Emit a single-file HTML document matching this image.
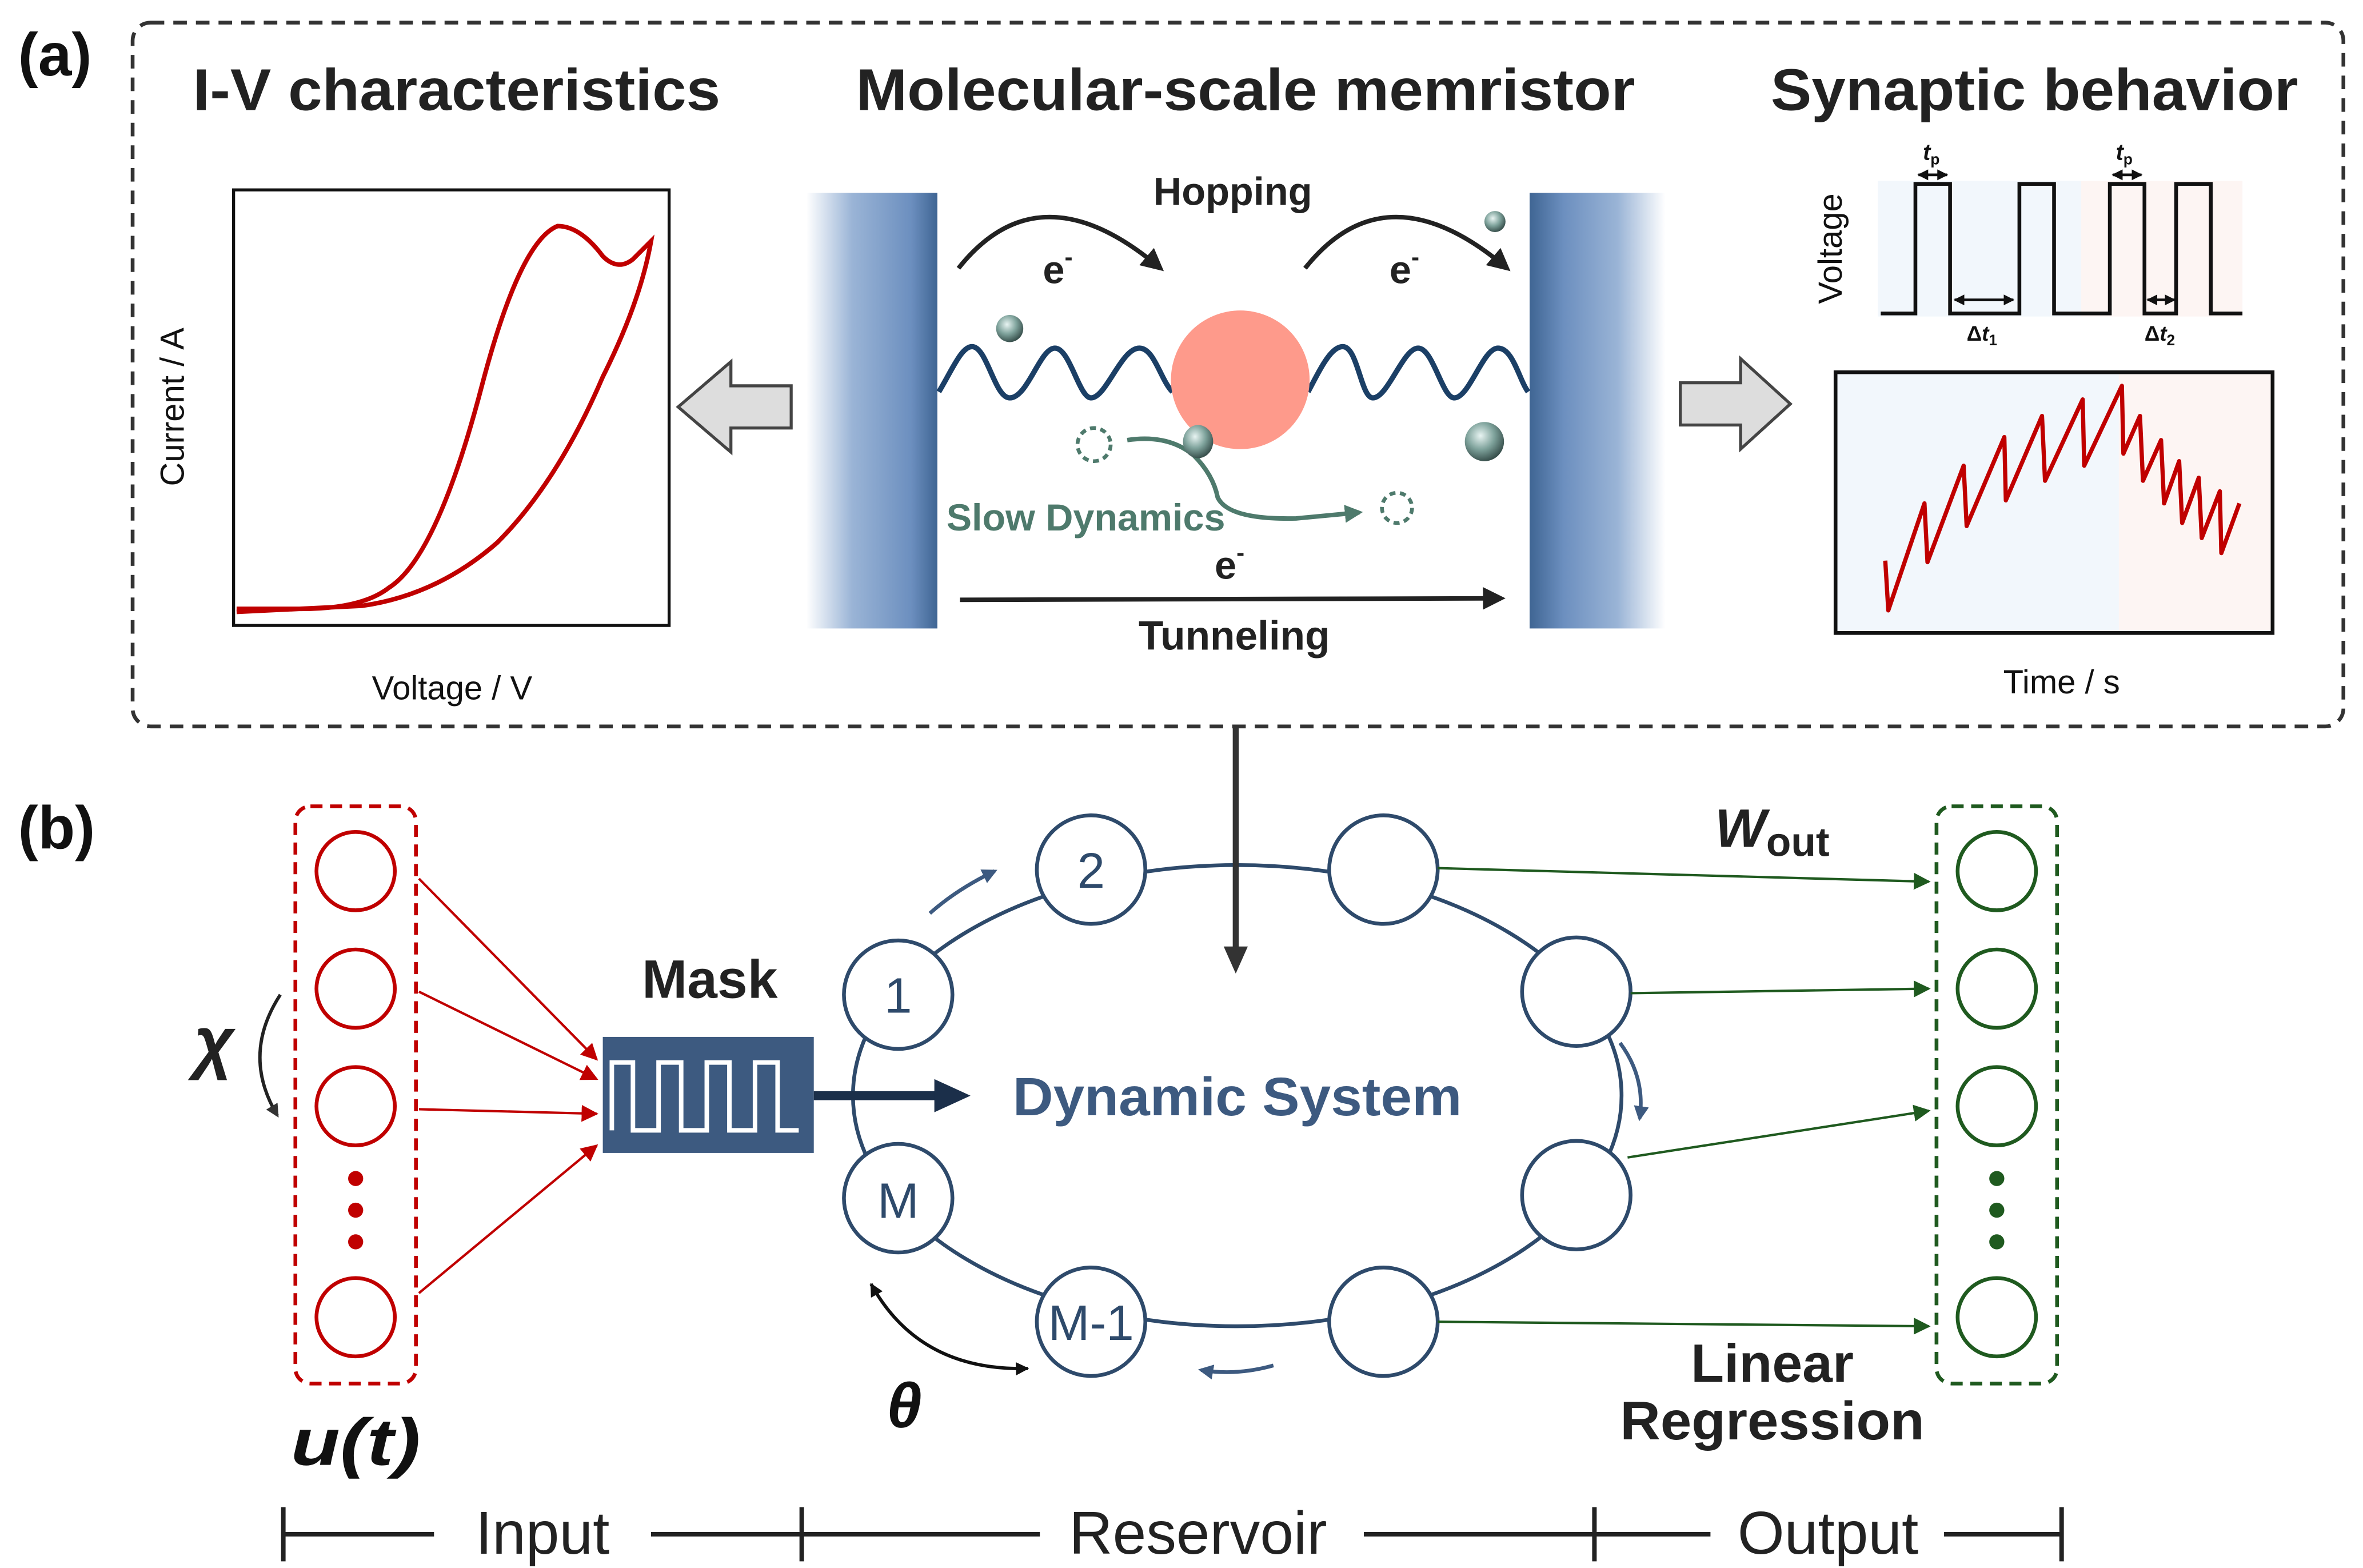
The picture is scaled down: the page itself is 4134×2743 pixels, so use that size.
<!DOCTYPE html>
<html><head><meta charset="utf-8"><style>
html,body{margin:0;padding:0;background:#fff}
svg{display:block}
text{font-family:"Liberation Sans",Arial,sans-serif}
</style></head><body>
<svg width="4134" height="2743" viewBox="0 0 1568 1040.4" preserveAspectRatio="none" xmlns="http://www.w3.org/2000/svg">
<defs>
<linearGradient id="elL" x1="0" x2="1" y1="0" y2="0">
<stop offset="0" stop-color="#ffffff"/><stop offset="0.35" stop-color="#9ab4d6"/><stop offset="0.8" stop-color="#6c8fbf"/><stop offset="1" stop-color="#3f6593"/></linearGradient>
<linearGradient id="elR" x1="0" x2="1" y1="0" y2="0">
<stop offset="0" stop-color="#3f6593"/><stop offset="0.25" stop-color="#6c8fbf"/><stop offset="0.65" stop-color="#9ab4d6"/><stop offset="1" stop-color="#ffffff"/></linearGradient>
<radialGradient id="ball" cx="0.4" cy="0.35" r="0.7">
<stop offset="0" stop-color="#e8f4f2"/><stop offset="0.5" stop-color="#7fa39c"/><stop offset="1" stop-color="#2f4542"/></radialGradient>
<marker id="ak" viewBox="0 0 10 10" refX="8" refY="5" markerWidth="5" markerHeight="5" orient="auto"><path d="M0,0 L10,5 L0,10 z" fill="#222"/></marker>
<marker id="akb" viewBox="0 0 10 10" refX="8" refY="5" markerWidth="4" markerHeight="4" orient="auto"><path d="M0,0 L10,5 L0,10 z" fill="#333"/></marker>
<marker id="ar" viewBox="0 0 10 10" refX="9" refY="5" markerWidth="7" markerHeight="7" orient="auto"><path d="M0,0 L10,5 L0,10 z" fill="#c00000"/></marker>
<marker id="ag" viewBox="0 0 10 10" refX="9" refY="5" markerWidth="7" markerHeight="7" orient="auto"><path d="M0,0 L10,5 L0,10 z" fill="#1f5a1f"/></marker>
<marker id="an" viewBox="0 0 10 10" refX="8" refY="5" markerWidth="4" markerHeight="4" orient="auto"><path d="M0,0 L10,5 L0,10 z" fill="#3d5a80"/></marker>
<marker id="as" viewBox="0 0 10 10" refX="8" refY="5" markerWidth="4" markerHeight="4" orient="auto"><path d="M0,0 L10,5 L0,10 z" fill="#4e7a6c"/></marker>
<marker id="dbl" viewBox="0 0 10 10" refX="9" refY="5" markerWidth="4" markerHeight="4" orient="auto-start-reverse"><path d="M0,0 L10,5 L0,10 z" fill="#111"/></marker>
</defs>

<!-- (a) -->
<text x="12" y="50" font-size="40" font-weight="bold" fill="#111">(a)</text>
<rect x="88" y="15" width="1467" height="467" rx="12" fill="none" stroke="#333" stroke-width="2.5" stroke-dasharray="9,6"/>
<text x="128" y="73" font-size="39" font-weight="bold" textLength="350" lengthAdjust="spacingAndGlyphs" fill="#222">I-V characteristics</text>
<text x="568" y="73" font-size="39" font-weight="bold" textLength="517" lengthAdjust="spacingAndGlyphs" fill="#222">Molecular-scale memristor</text>
<text x="1175" y="73" font-size="39" font-weight="bold" textLength="350" lengthAdjust="spacingAndGlyphs" fill="#222">Synaptic behavior</text>

<!-- IV plot -->
<rect x="155" y="126" width="289" height="289" fill="#fff" stroke="#111" stroke-width="2"/>
<path d="M157,404 L200,404 Q240,404 258,390 Q290,370 320,255 Q345,160 370,150 Q385,150 400,170 Q410,180 420,172 L432,160 Q425,200 400,250 Q370,320 330,360 Q290,395 240,402 L157,406" fill="none" stroke="#c00000" stroke-width="3"/>
<text x="122" y="270" font-size="22" text-anchor="middle" transform="rotate(-90 122 270)" fill="#111">Current / A</text>
<text x="300" y="464" font-size="22" text-anchor="middle" fill="#111">Voltage / V</text>

<!-- block arrows -->
<path d="M525,256 L485,256 L485,240 L450,270 L485,300 L485,284 L525,284 Z" fill="#ddd" stroke="#444" stroke-width="2"/>
<path d="M1115,254 L1155,254 L1155,238 L1188,268 L1155,298 L1155,282 L1115,282 Z" fill="#ddd" stroke="#444" stroke-width="2"/>

<!-- electrodes -->
<rect x="535" y="128" width="87" height="289" fill="url(#elL)"/>
<rect x="1015" y="128" width="90" height="289" fill="url(#elR)"/>
<path d="M623,260 C632,245 638,230 645,230 C655,230 660,264 670,264 C682,264 690,231 700,231 C710,231 716,264 724,264 C734,264 744,231 756,231 C766,231 770,252 778,260" fill="none" stroke="#1b3f66" stroke-width="3.5"/>
<path d="M868,260 C876,245 883,230 891,230 C901,230 903,264 911,264 C921,264 931,231 941,231 C951,231 957,264 965,264 C975,264 984,231 994,231 C1004,231 1008,252 1014,260" fill="none" stroke="#1b3f66" stroke-width="3.5"/>
<ellipse cx="823" cy="252" rx="46" ry="46" fill="#fe9a8b"/>
<text x="818" y="136" font-size="26" font-weight="bold" text-anchor="middle" fill="#222">Hopping</text>
<path d="M636,178 Q690,110 770,178" fill="none" stroke="#222" stroke-width="3" marker-end="url(#ak)"/>
<path d="M866,178 Q920,110 1000,178" fill="none" stroke="#222" stroke-width="3" marker-end="url(#ak)"/>
<text x="692" y="188" font-size="26" font-weight="bold" fill="#222">e<tspan font-size="16" dy="-12">-</tspan></text>
<text x="922" y="188" font-size="26" font-weight="bold" fill="#222">e<tspan font-size="16" dy="-12">-</tspan></text>
<ellipse cx="670" cy="218" rx="9" ry="9" fill="url(#ball)"/>
<ellipse cx="992" cy="147" rx="7" ry="7" fill="url(#ball)"/>
<ellipse cx="985" cy="293" rx="13" ry="13" fill="url(#ball)"/>
<circle cx="726" cy="295" r="11" fill="none" stroke="#4e7a6c" stroke-width="2.5" stroke-dasharray="4,3"/>
<circle cx="927" cy="337" r="10" fill="none" stroke="#4e7a6c" stroke-width="2.5" stroke-dasharray="4,3"/>
<path d="M748,292 Q775,288 792,302 Q805,315 808,330 Q815,345 860,344 L902,340" fill="none" stroke="#4e7a6c" stroke-width="3" marker-end="url(#as)"/>
<ellipse cx="795" cy="293" rx="10" ry="11" fill="url(#ball)"/>
<text x="628" y="352" font-size="25" font-weight="bold" textLength="185" lengthAdjust="spacingAndGlyphs" fill="#4e7a6c">Slow Dynamics</text>
<text x="806" y="384" font-size="26" font-weight="bold" fill="#222">e<tspan font-size="16" dy="-12">-</tspan></text>
<line x1="637" y1="398" x2="996" y2="397" stroke="#222" stroke-width="3" marker-end="url(#ak)"/>
<text x="819" y="431" font-size="27" font-weight="bold" text-anchor="middle" fill="#222">Tunneling</text>

<!-- synaptic pulses -->
<rect x="1246" y="120" width="135" height="90" fill="#f2f7fc"/>
<rect x="1381" y="120" width="107" height="90" fill="#fdf5f3"/>
<path d="M1248,208 L1271,208 L1271,122 L1294,122 L1294,208 L1340,208 L1340,122 L1363,122 L1363,208 L1400,208 L1400,122 L1423,122 L1423,208 L1444,208 L1444,122 L1467,122 L1467,208 L1488,208" fill="none" stroke="#111" stroke-width="2.5"/>
<line x1="1273" y1="116" x2="1292" y2="116" stroke="#111" stroke-width="1.8" marker-start="url(#dbl)" marker-end="url(#dbl)"/>
<line x1="1402" y1="116" x2="1421" y2="116" stroke="#111" stroke-width="1.8" marker-start="url(#dbl)" marker-end="url(#dbl)"/>
<line x1="1297" y1="199" x2="1336" y2="199" stroke="#111" stroke-width="1.8" marker-start="url(#dbl)" marker-end="url(#dbl)"/>
<line x1="1425" y1="199" x2="1443" y2="199" stroke="#111" stroke-width="1.8" marker-start="url(#dbl)" marker-end="url(#dbl)"/>
<text x="1276" y="106" font-size="15" font-weight="bold" font-style="italic" fill="#111">t<tspan font-size="10" font-style="normal" dy="3">p</tspan></text>
<text x="1404" y="106" font-size="15" font-weight="bold" font-style="italic" fill="#111">t<tspan font-size="10" font-style="normal" dy="3">p</tspan></text>
<text x="1305" y="226" font-size="14" font-weight="bold" fill="#111">Δ<tspan font-style="italic">t</tspan><tspan font-size="10" dy="3">1</tspan></text>
<text x="1423" y="226" font-size="14" font-weight="bold" fill="#111">Δ<tspan font-style="italic">t</tspan><tspan font-size="10" dy="3">2</tspan></text>
<text x="1222" y="165" font-size="22" text-anchor="middle" transform="rotate(-90 1222 165)" fill="#111">Voltage</text>

<rect x="1218" y="247" width="188" height="173" fill="#f2f7fc"/>
<rect x="1406" y="247" width="102" height="173" fill="#fdf5f3"/>
<rect x="1218" y="247" width="290" height="173" fill="none" stroke="#111" stroke-width="2.5"/>
<polyline points="1251,372 1253,405 1277,334 1279,373 1303,309 1305,349 1330,290 1331,332 1355,276 1357,319 1382,265 1383,309 1408,256 1409,301 1420,276 1422,319 1434,292 1436,334 1446,306 1448,347 1459,317 1461,357 1473,326 1474,367 1486,334" fill="none" stroke="#c00000" stroke-width="2.8" stroke-linejoin="round"/>
<text x="1368" y="460" font-size="22" text-anchor="middle" fill="#111">Time / s</text>

<!-- ring (drawn before connector) -->
<ellipse cx="821" cy="727" rx="255" ry="153" fill="none" stroke="#2e4a6b" stroke-width="2.5"/>

<!-- connector down -->
<line x1="820" y1="482" x2="820" y2="632" stroke="#333" stroke-width="4"/>
<path d="M812,628 L828,628 L820,646 Z" fill="#333"/>

<!-- (b) -->
<text x="12" y="563" font-size="40" font-weight="bold" fill="#111">(b)</text>
<rect x="196" y="535" width="80" height="383" rx="10" fill="none" stroke="#c00000" stroke-width="2.5" stroke-dasharray="8,5"/>
<g fill="none" stroke="#c00000" stroke-width="2.5">
<circle cx="236" cy="578" r="26"/><circle cx="236" cy="656" r="26"/><circle cx="236" cy="734" r="26"/><circle cx="236" cy="874" r="26"/></g>
<g fill="#c00000"><circle cx="236" cy="782" r="5"/><circle cx="236" cy="803" r="5"/><circle cx="236" cy="824" r="5"/></g>
<g stroke="#c00000" stroke-width="1.6">
<line x1="278" y1="583" x2="396" y2="703" marker-end="url(#ar)"/>
<line x1="278" y1="658" x2="396" y2="716" marker-end="url(#ar)"/>
<line x1="278" y1="736" x2="396" y2="739" marker-end="url(#ar)"/>
<line x1="278" y1="858" x2="396" y2="760" marker-end="url(#ar)"/>
</g>
<text x="142" y="707" font-size="46" font-style="italic" font-weight="bold" font-family="Liberation Serif" text-anchor="middle" fill="#222">χ</text>
<path d="M186,660 Q160,700 184,740" fill="none" stroke="#222" stroke-width="2.2" marker-end="url(#akb)"/>
<text x="236" y="972" font-size="44" font-weight="bold" font-style="italic" font-family="Liberation Serif" text-anchor="middle" textLength="86" lengthAdjust="spacingAndGlyphs" fill="#111">u(t)</text>

<text x="471" y="662" font-size="36" font-weight="bold" text-anchor="middle" fill="#222">Mask</text>
<rect x="400" y="688" width="140" height="77" fill="#3d5a80"/>
<path d="M406,750 L406,705 L420,705 L420,750 L437,750 L437,705 L452,705 L452,750 L469,750 L469,705 L484,705 L484,750 L501,750 L501,705 L516,705 L516,750 L530,750" fill="none" stroke="#fff" stroke-width="3"/>
<line x1="540" y1="727" x2="625" y2="727" stroke="#1b2f4a" stroke-width="6"/>
<path d="M620,716 L644,727 L620,738 Z" fill="#1b2f4a"/>

<g fill="#fff" stroke="#2e4a6b" stroke-width="2.5">
<circle cx="596" cy="660" r="36"/><circle cx="724" cy="577" r="36"/><circle cx="918" cy="577" r="36"/><circle cx="1046" cy="658" r="36"/>
<circle cx="1046" cy="793" r="36"/><circle cx="918" cy="877" r="36"/><circle cx="724" cy="877" r="36"/><circle cx="596" cy="795" r="36"/></g>
<g font-size="33" text-anchor="middle" fill="#2e4a6b">
<text x="596" y="672">1</text><text x="724" y="589">2</text><text x="596" y="808">M</text><text x="724" y="889">M-1</text></g>
<text x="821" y="740" font-size="36" font-weight="bold" text-anchor="middle" textLength="298" lengthAdjust="spacingAndGlyphs" fill="#3d5a80">Dynamic System</text>
<path d="M617,606 Q635,590 660,578" fill="none" stroke="#3d5a80" stroke-width="2.5" marker-end="url(#an)"/>
<path d="M1075,692 Q1092,715 1088,742" fill="none" stroke="#3d5a80" stroke-width="2.5" marker-end="url(#an)"/>
<path d="M845,906 Q820,913 797,909" fill="none" stroke="#3d5a80" stroke-width="2.5" marker-end="url(#an)"/>
<path d="M578,852 Q610,910 682,908" fill="none" stroke="#111" stroke-width="2.2" marker-start="url(#dbl)" marker-end="url(#dbl)"/>
<text x="600" y="947" font-size="42" font-weight="bold" font-style="italic" font-family="Liberation Serif" text-anchor="middle" fill="#111">θ</text>

<!-- output -->
<rect x="1285" y="535" width="80" height="383" rx="10" fill="none" stroke="#1f5a1f" stroke-width="2.5" stroke-dasharray="8,5"/>
<g fill="none" stroke="#1f5a1f" stroke-width="2.5">
<circle cx="1325" cy="578" r="26"/><circle cx="1325" cy="656" r="26"/><circle cx="1325" cy="734" r="26"/><circle cx="1325" cy="874" r="26"/></g>
<g fill="#1f5a1f"><circle cx="1325" cy="782" r="5"/><circle cx="1325" cy="803" r="5"/><circle cx="1325" cy="824" r="5"/></g>
<g stroke="#1f5a1f" stroke-width="1.6">
<line x1="954" y1="576" x2="1280" y2="585" marker-end="url(#ag)"/>
<line x1="1082" y1="659" x2="1280" y2="656" marker-end="url(#ag)"/>
<line x1="1080" y1="768" x2="1280" y2="737" marker-end="url(#ag)"/>
<line x1="954" y1="877" x2="1280" y2="880" marker-end="url(#ag)"/>
</g>
<text x="1138" y="562" font-size="36" font-weight="bold" font-style="italic" font-family="Liberation Serif" fill="#222">W<tspan font-style="normal" font-size="27" dy="6">out</tspan></text>
<text x="1176" y="917" font-size="36" font-weight="bold" text-anchor="middle" fill="#222">Linear</text>
<text x="1176" y="955" font-size="36" font-weight="bold" text-anchor="middle" textLength="202" lengthAdjust="spacingAndGlyphs" fill="#222">Regression</text>

<!-- scale -->
<g stroke="#222" stroke-width="3">
<line x1="188" y1="1018" x2="288" y2="1018"/><line x1="432" y1="1018" x2="690" y2="1018"/>
<line x1="905" y1="1018" x2="1135" y2="1018"/><line x1="1290" y1="1018" x2="1368" y2="1018"/>
<line x1="188" y1="1000" x2="188" y2="1036"/><line x1="532" y1="1000" x2="532" y2="1036"/>
<line x1="1058" y1="1000" x2="1058" y2="1036"/><line x1="1368" y1="1000" x2="1368" y2="1036"/></g>
<g font-size="40" text-anchor="middle" fill="#222">
<text x="360" y="1031">Input</text><text x="795" y="1031">Reservoir</text><text x="1213" y="1031">Output</text></g>
</svg>
</body></html>
